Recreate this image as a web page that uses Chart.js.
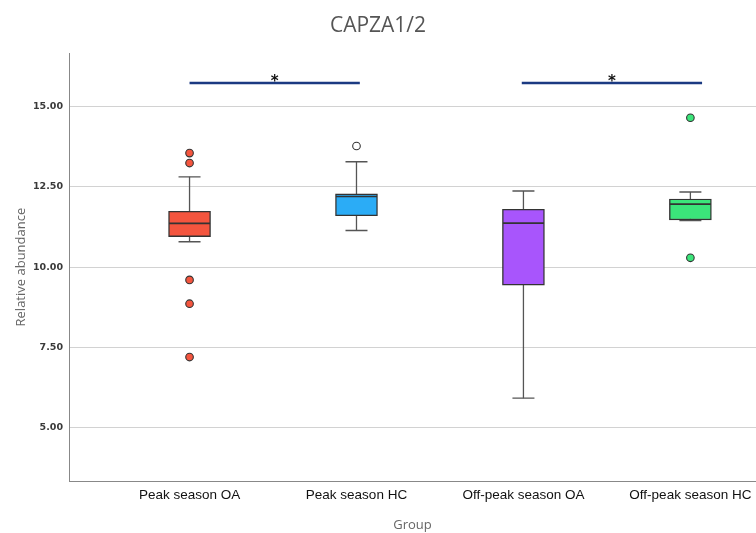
<!DOCTYPE html>
<html><head><meta charset="utf-8">
<script src="https://cdn.jsdelivr.net/npm/chart.js@4"></script>
<style>html,body{margin:0;padding:0;background:#fff}</style>
</head><body>
<canvas id="c" width="756" height="533"></canvas>
<script>
// ---- data ----
const categories = ['Peak season OA', 'Peak season HC', 'Off-peak season OA', 'Off-peak season HC'];
const whiskerLow  = [10.79, 11.14, 5.92, 11.45];
const q1          = [10.95, 11.60, 9.44, 11.47];
const median      = [11.36, 12.20, 11.37, 11.96];
const q3          = [11.74, 12.28, 11.80, 12.12];
const whiskerHigh = [12.81, 13.28, 12.37, 12.34];
const outliers    = [[13.55, 13.24, 9.60, 8.86, 7.20], [13.77], [], [14.65, 10.29]];
const yTicks      = [5.00, 7.50, 10.00, 12.50, 15.00];
const sigPairs    = [[1, 2.02], [2.99, 4.07]];
const sigLevel    = 15.73;
const sigLabels   = ['*', '*'];

// ---- styles ----
const boxColors = ['#F4553E', '#2BACF6', '#A855FC', '#3BE57A'];
const outlierFill = ['#F4553E', '#FFFFFF', '#A855FC', '#3BE57A'];
const pos = categories.map((c, i) => i + 1);

const whiskerData = [];
pos.forEach((x, i) => {
  whiskerData.push({x, y: whiskerLow[i]}, {x, y: whiskerHigh[i]}, {x: x + 0.5, y: null});
});
const capData = [];
pos.forEach((x, i) => { capData.push({x, y: whiskerLow[i]}, {x, y: whiskerHigh[i]}); });
const outData = [], outColors = [];
outliers.forEach((arr, i) => arr.forEach(v => { outData.push({x: pos[i], y: v}); outColors.push(outlierFill[i]); }));
const sigData = [];
sigPairs.forEach(p => { sigData.push({x: p[0], y: sigLevel}, {x: p[1], y: sigLevel}, {x: p[1] + 0.1, y: null}); });

const starPlugin = {
  id: 'stars',
  afterDatasetsDraw(chart) {
    const {ctx, scales: {x, y}} = chart;
    ctx.save();
    ctx.font = 'bold 15px "DejaVu Sans"';
    ctx.fillStyle = '#111';
    ctx.textAlign = 'center';
    ctx.textBaseline = 'alphabetic';
    sigPairs.forEach((p, i) => {
      ctx.fillText(sigLabels[i], x.getPixelForValue((p[0] + p[1]) / 2), y.getPixelForValue(sigLevel) + 3);
    });
    ctx.restore();
  }
};

new Chart(document.getElementById('c'), {
  type: 'bar',
  data: {
    datasets: [
      {type: 'line', data: whiskerData, borderColor: '#555', borderWidth: 1.3, pointRadius: 0, spanGaps: false, order: 5},
      {type: 'scatter', data: capData, pointStyle: 'line', pointRadius: 11, borderColor: '#555', borderWidth: 1.4, order: 4},
      {type: 'bar', data: pos.map((x, i) => ({x, y: [q1[i], q3[i]]})), backgroundColor: boxColors,
       borderColor: '#333', borderWidth: 1.4, borderSkipped: false, barThickness: 42, order: 3},
      {type: 'scatter', data: pos.map((x, i) => ({x, y: median[i]})), pointStyle: 'line', pointRadius: 20.5,
       borderColor: '#333', borderWidth: 1.6, order: 2},
      {type: 'scatter', data: outData, pointStyle: 'circle', pointRadius: 3.8, backgroundColor: outColors,
       borderColor: '#333', borderWidth: 1.1, order: 1},
      {type: 'line', data: sigData, borderColor: '#1B3A82', borderWidth: 2.5, pointRadius: 0, spanGaps: false, order: 0}
    ]
  },
  options: {
    responsive: false,
    animation: false,
    layout: {padding: 0, autoPadding: false},
    plugins: {
      legend: {display: false},
      tooltip: {enabled: false},
      title: {display: true, text: 'CAPZA1/2', color: '#555',
        font: {family: 'Open Sans', size: 21, weight: 'normal'}, padding: {top: 13, bottom: 15}}
    },
    scales: {
      x: {
        type: 'linear', min: 0.278, max: 4.393, offset: false,
        afterBuildTicks: s => { s.ticks = pos.map(v => ({value: v})); },
        ticks: {callback: (v, i) => categories[i], font: {family: 'Liberation Sans', size: 13.5}, color: '#111',
          padding: 6, maxRotation: 0, autoSkip: false},
        grid: {display: false, drawTicks: false, offset: false},
        border: {color: '#888', width: 1},
        title: {display: true, text: 'Group', color: '#666', font: {family: 'Open Sans', size: 13}, padding: {top: 0, bottom: 0}},
        afterFit: s => { s.height = 52; s.paddingLeft = 0; s.paddingRight = 0; }
      },
      y: {
        min: 3.34, max: 16.66,
        afterBuildTicks: s => { s.ticks = yTicks.map(v => ({value: v})); },
        ticks: {callback: v => v.toFixed(2), font: {family: 'DejaVu Sans', size: 9.5, weight: 'bold'}, color: '#3a3a3a', padding: 6},
        grid: {color: '#d2d2d2', drawTicks: false, lineWidth: 1},
        border: {color: '#888', width: 1},
        title: {display: true, text: 'Relative abundance', color: '#666', font: {family: 'Open Sans', size: 13}, padding: {top: 13, bottom: 0}},
        afterFit: s => { s.width = 69; }
      }
    }
  },
  plugins: [starPlugin]
});
</script>
</body></html>
